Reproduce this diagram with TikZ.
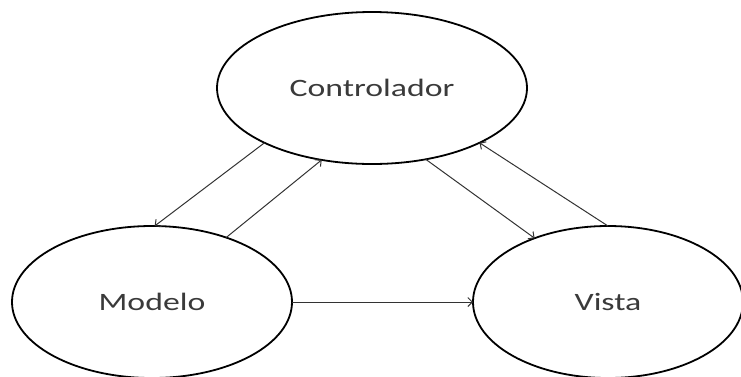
\documentclass[tikz,border=0pt]{standalone}
\usepackage{fontspec}
\setmainfont{Carlito}
\usetikzlibrary{shapes.geometric,arrows.meta}
\definecolor{txt}{HTML}{3A3A3A}
\definecolor{wire}{HTML}{333333}
\tikzset{
  blob/.style={draw=black, line width=1.8pt, ellipse, inner sep=0pt, outer sep=0pt,
    text=txt, font=\fontsize{25}{30}\selectfont},
  link/.style={draw=wire, line width=1pt,
    -{Straight Barb[length=4.5pt,width=9pt,line width=1pt]}}
}
\newcommand{\wide}[1]{\scalebox{1.35}[1]{#1}}
\begin{document}
\begin{tikzpicture}[x=1pt,y=-1pt]
  \useasboundingbox (0,0) rectangle (741,376);
  \node[blob, minimum width=310pt, minimum height=152pt] (ctrl) at (372,88) {\wide{Controlador}};
  \node[blob, minimum width=280pt, minimum height=152pt] (model) at (152,302) {\wide{Modelo}};
  \node[blob, minimum width=270pt, minimum height=152pt] (view) at (608,302) {\wide{Vista}};

  \draw[link] (ctrl.207.6) -- (model.88);
  \draw[link] (model.41.7) -- (ctrl.235);
  \draw[link] (ctrl.307.7) -- (view.139.5);
  \draw[link] (view.90) -- (ctrl.333.6);
  \draw[link] (model.0) -- (view.180);
\end{tikzpicture}
\end{document}
